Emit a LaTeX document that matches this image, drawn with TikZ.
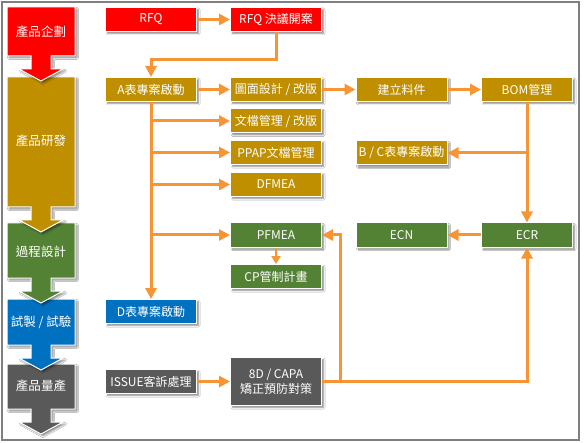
\documentclass[tikz,border=0pt]{standalone}
\usepackage{fontspec}
\setmainfont{Noto Sans CJK TC}
\usetikzlibrary{arrows.meta,shadows.blur}
\definecolor{cred}{HTML}{FF0000}
\definecolor{cgold}{HTML}{BF8F00}
\definecolor{cgreen}{HTML}{548235}
\definecolor{cblue}{HTML}{0070C0}
\definecolor{cgray}{HTML}{595959}
\definecolor{corange}{HTML}{F79433}
\definecolor{cframe}{HTML}{7F7F7F}
\begin{document}
\begin{tikzpicture}[x=1pt,y=-1pt,
  shade3/.style={blur shadow={shadow xshift=2pt,shadow yshift=-2pt,shadow blur radius=1.5pt,shadow opacity=45}},
  box/.style={draw=white,line width=1pt,minimum width=91pt,minimum height=24pt,inner sep=1pt,
    text=white,font=\fontsize{12}{14}\selectfont,align=center,shade3},
  lefttext/.style={text=white,font=\fontsize{12.5}{14}\selectfont,inner sep=0pt},
  conn/.style={draw=corange,line width=3pt,-{Triangle[length=11pt,width=11pt]}},
  connsmall/.style={draw=corange,line width=2.5pt,-{Triangle[length=8pt,width=9pt]}}
]
\useasboundingbox (0,0) rectangle (585,443);
\fill[white] (0,0) rectangle (585,443);
\draw[cframe,line width=2pt] (2,2) rectangle (579,440);

% left column block arrows (drawn bottom-up so heads overlap next block)
\path[fill=cgray,draw=white,line width=1pt,shade3]
  (7,364) -- (75,364) -- (75,409) -- (51,409) -- (51,422) -- (63,422)
  -- (41,434) -- (19,422) -- (31,422) -- (31,409) -- (7,409) -- cycle;
\path[fill=cblue,draw=white,line width=1pt,shade3]
  (7,299) -- (75,299) -- (75,345) -- (51,345) -- (51,358) -- (63,358)
  -- (41,370) -- (19,358) -- (31,358) -- (31,345) -- (7,345) -- cycle;
\path[fill=cgreen,draw=white,line width=1pt,shade3]
  (7,223) -- (75,223) -- (75,278) -- (51,278) -- (51,291) -- (63,291)
  -- (41,303) -- (19,291) -- (31,291) -- (31,278) -- (7,278) -- cycle;
\path[fill=cgold,draw=white,line width=1pt,shade3]
  (7,77) -- (75,77) -- (75,207) -- (51,207) -- (51,220) -- (63,220)
  -- (41,232) -- (19,220) -- (31,220) -- (31,207) -- (7,207) -- cycle;
\path[fill=cred,draw=white,line width=1pt,shade3]
  (7,7) -- (75,7) -- (75,56) -- (51,56) -- (51,69) -- (63,69)
  -- (41,81) -- (19,69) -- (31,69) -- (31,56) -- (7,56) -- cycle;

\node[lefttext] (l1) at (41,32) {產品企劃};
\node[lefttext] (l2) at (41,141) {產品研發};
\node[lefttext] (l3) at (41,252) {過程設計};
\node[lefttext] (l4) at (41,322) {試製 / 試驗};
\node[lefttext] (l5) at (41,386) {產品量產};

% nodes
\node[box,fill=cred]   (rfq)   at (151,19.5)  {RFQ};
\node[box,fill=cred]   (rfqd)  at (276,19.5)  {RFQ 決議開案};
\node[box,fill=cgold]  (a)     at (151,89.5)  {A表專案啟動};
\node[box,fill=cgold]  (dwg)   at (276,89.5)  {圖面設計 / 改版};
\node[box,fill=cgold]  (doc)   at (276,121)   {文檔管理 / 改版};
\node[box,fill=cgold]  (ppap)  at (276,152.5) {PPAP文檔管理};
\node[box,fill=cgold]  (dfmea) at (276,184.5) {DFMEA};
\node[box,fill=cgold]  (mat)   at (401.5,89.5) {建立料件};
\node[box,fill=cgold]  (bom)   at (527,89.5)  {BOM管理};
\node[box,fill=cgold]  (bc)    at (401.5,153) {B / C表專案啟動};
\node[box,fill=cgreen] (pfmea) at (276,235)   {PFMEA};
\node[box,fill=cgreen] (cp)    at (276,276.5) {CP管制計畫};
\node[box,fill=cgreen] (ecn)   at (401.5,235) {ECN};
\node[box,fill=cgreen] (ecr)   at (527,235)   {ECR};
\node[box,fill=cblue]  (d)     at (151,311.5) {D表專案啟動};
\node[box,fill=cgray]  (issue) at (151,381.5) {ISSUE客訴處理};
\node[box,fill=cgray,minimum height=48pt,font=\fontsize{12}{15}\selectfont] (cd) at (276,381.5) {8D / CAPA\\矯正預防對策};

\coordinate (j) at (340,381.5);

% connectors
\draw[conn] (rfq) -- (rfqd);
\draw[conn] (rfqd.south) -- ++(0,28) -| (a.north);
\draw[conn] (a) -- (dwg);
\draw[conn] (a.south) -- (d.north);
\draw[conn] (a.south |- doc) -- (doc.west);
\draw[conn] (a.south |- ppap) -- (ppap.west);
\draw[conn] (a.south |- dfmea) -- (dfmea.west);
\draw[conn] (a.south |- pfmea) -- (pfmea.west);
\draw[conn] (dwg) -- (mat);
\draw[conn] (mat) -- (bom);
\draw[conn] (bom.south) -- (ecr.north);
\draw[conn] (bom.south |- bc) -- (bc.east);
\draw[conn] (ecr) -- (ecn);
\draw[connsmall] (pfmea) -- (cp);
\draw[conn] (issue) -- (cd);
\draw[conn] (cd.east) -| (ecr.south);
\draw[conn] (j) |- (pfmea.east);
\end{tikzpicture}
\end{document}
